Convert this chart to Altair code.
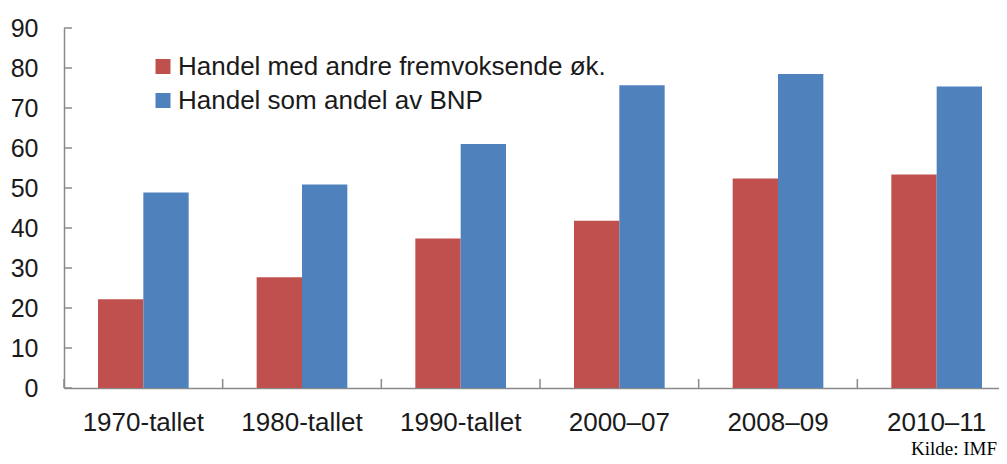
import altair as alt
import pandas as pd

categories = ["1970-tallet", "1980-tallet", "1990-tallet", "2000–07", "2008–09", "2010–11"]
series_names = ["Handel med andre fremvoksende øk.", "Handel som andel av BNP"]
emerging_trade = [22.2, 27.7, 37.4, 41.8, 52.4, 53.4]
trade_gdp = [48.9, 50.9, 61.0, 75.7, 78.5, 75.4]
y_ticks = [0, 10, 20, 30, 40, 50, 60, 70, 80, 90]
colors = ["#C0504D", "#4F81BD"]
source_note = ["Kilde: IMF"]

rows = []
for c, a, b in zip(categories, emerging_trade, trade_gdp):
    rows.append({"period": c, "series": series_names[0], "value": a})
    rows.append({"period": c, "series": series_names[1], "value": b})
df = pd.DataFrame(rows)

FONT = "Liberation Sans"
AXIS_GRAY = "#8a8a8a"
TEXT = "#1a1a1a"

x_scale = alt.Scale(range=[0, 952], paddingInner=0, paddingOuter=0)
y_scale = alt.Scale(domain=[0, 90], nice=False)

x_axis = alt.Axis(labelAngle=0, ticks=False, labelPadding=21, labelFontSize=26,
                  labelFont=FONT, labelColor=TEXT, domainColor=AXIS_GRAY,
                  domainWidth=1.5, labelLimit=400, labelOverlap=False)
y_axis = alt.Axis(values=y_ticks, grid=False, ticks=False, labelPadding=26,
                  labelFontSize=25, labelFont=FONT, labelColor=TEXT,
                  domainColor=AXIS_GRAY, domainWidth=1.5, labelOverlap=False,
                  labelBound=False)

bars = alt.Chart(df).mark_bar().encode(
    x=alt.X("period:N", sort=categories, scale=x_scale, title=None, axis=x_axis),
    xOffset=alt.XOffset("series:N", sort=series_names,
                        scale=alt.Scale(paddingInner=0, paddingOuter=0.75)),
    y=alt.Y("value:Q", scale=y_scale, title=None, axis=y_axis),
    color=alt.Color("series:N", sort=series_names,
                    scale=alt.Scale(domain=series_names, range=colors),
                    legend=alt.Legend(title=None, orient="none", legendX=86, legendY=25.5,
                                      symbolType="square", symbolSize=225,
                                      symbolStrokeWidth=0, labelFontSize=26,
                                      labelFont=FONT, labelColor=TEXT, labelOffset=2,
                                      rowPadding=8, padding=0, labelLimit=700)),
)

xticks = alt.Chart(pd.DataFrame({"period": categories})).mark_rule(
    color=AXIS_GRAY, strokeWidth=1.5
).encode(
    x=alt.X("period:N", sort=categories, scale=x_scale, bandPosition=0, title=None, axis=x_axis),
    y=alt.value(351),
    y2=alt.value(360),
)

yticks = alt.Chart(pd.DataFrame({"value": y_ticks})).mark_rule(
    color=AXIS_GRAY, strokeWidth=1.5
).encode(
    y=alt.Y("value:Q", scale=y_scale, title=None, axis=y_axis),
    x=alt.value(0),
    x2=alt.value(8),
)

note = alt.Chart(pd.DataFrame({"note": source_note})).mark_text(
    align="right", baseline="alphabetic", font="Liberation Serif", fontSize=19, color="#000000"
).encode(
    x=alt.value(933),
    y=alt.value(427),
    text="note:N",
)

chart = alt.layer(bars, xticks, yticks, note).properties(
    width=935, height=360,
    autosize=alt.AutoSizeParams(type="none"),
    padding={"left": 56, "top": 20, "right": 0, "bottom": 72},
).configure_view(stroke=None)

chart.save("out.html", embed_options={"renderer": "svg", "actions": False})
